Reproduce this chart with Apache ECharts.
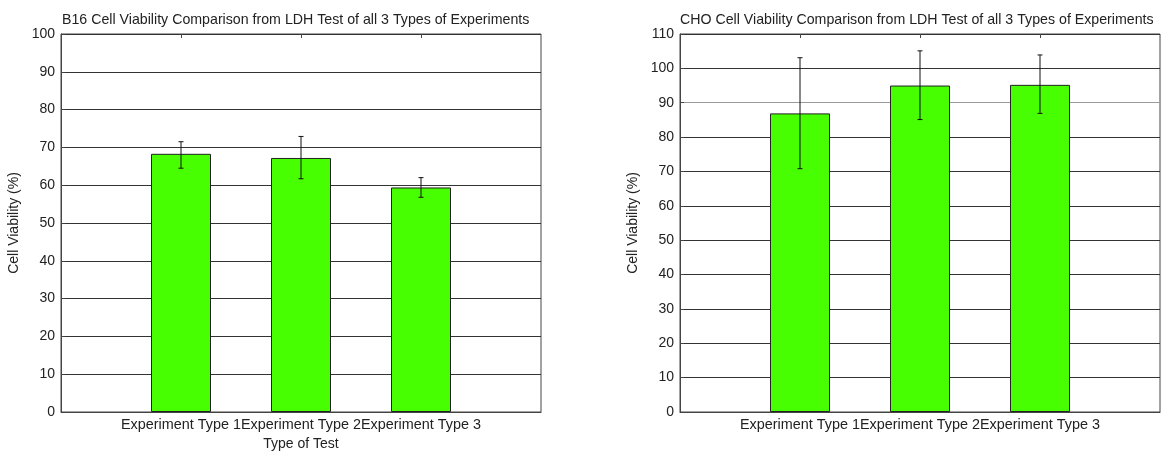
<!DOCTYPE html>
<html>
<head>
<meta charset="utf-8">
<script src="https://cdn.jsdelivr.net/npm/echarts@6/dist/echarts.min.js"></script>
<style>
  html, body { margin: 0; padding: 0; background: #fff; }
  #chart { width: 1161px; height: 452px; }
</style>
</head>
<body>
<div id="chart"></div>
<script>
// categories shared by both panels
const categories = ['Experiment Type 1', 'Experiment Type 2', 'Experiment Type 3'];

// B16 panel
const b16Values = [68.3, 67.2, 59.4];
const b16Low = [64.5, 61.7, 56.8];
const b16High = [71.5, 72.9, 62.0];

// CHO panel
const choValues = [86.9, 95.0, 95.2];
const choLow = [70.8, 85.1, 86.9];
const choHigh = [103.1, 105.1, 103.9];

const b16Ticks = [0, 10, 20, 30, 40, 50, 60, 70, 80, 90, 100];
const choTicks = [0, 10, 20, 30, 40, 50, 60, 70, 80, 90, 100, 110];

const FONT = "'Liberation Sans', Arial, sans-serif";
const TEXT = '#222';
const GREEN = '#47ff00';

// pad one empty slot on each side so bars sit at 1,2,3 of a 0..4 axis
const axisCats = ['', ...categories, ''];
const padded = arr => ['-', ...arr, '-'];

function errData(low, high) {
    return low.map((l, i) => [i + 1, l, high[i]]);
}

function renderErr(params, api) {
    const x = api.value(0);
    const lo = api.coord([x, api.value(1)]);
    const hi = api.coord([x, api.value(2)]);
    const cap = 2.5;
    const style = { stroke: '#111', lineWidth: 1 };
    return {
        type: 'group',
        children: [
            { type: 'line', shape: { x1: lo[0], y1: lo[1], x2: hi[0], y2: hi[1] }, style },
            { type: 'line', shape: { x1: hi[0] - cap, y1: hi[1], x2: hi[0] + cap, y2: hi[1] }, style },
            { type: 'line', shape: { x1: lo[0] - cap, y1: lo[1], x2: lo[0] + cap, y2: lo[1] }, style }
        ]
    };
}

function yAxisFor(gridIndex, ticks, lineColors) {
    return {
        type: 'value',
        gridIndex,
        min: ticks[0],
        max: ticks[ticks.length - 1],
        interval: 10,
        name: 'Cell Viability (%)',
        nameLocation: 'middle',
        nameGap: 40,
        nameTextStyle: { fontSize: 14, color: TEXT, fontFamily: FONT },
        axisLine: { show: true, lineStyle: { color: '#444' } },
        axisTick: { show: true, inside: true, length: 4, lineStyle: { color: '#444' } },
        axisLabel: { fontSize: 14, color: TEXT, fontFamily: FONT, margin: 6 },
        splitLine: { show: true, lineStyle: { color: lineColors, width: 1 } }
    };
}

function xAxisFor(gridIndex, name) {
    return {
        type: 'category',
        gridIndex,
        data: axisCats,
        boundaryGap: false,
        name,
        nameLocation: 'middle',
        nameGap: 25,
        nameTextStyle: { fontSize: 14, color: TEXT, fontFamily: FONT },
        axisLine: { show: true, lineStyle: { color: '#444' } },
        axisTick: { show: false },
        axisLabel: { interval: 0, fontSize: 14.4, color: TEXT, fontFamily: FONT, margin: 6, hideOverlap: false }
    };
}

function topAxisFor(gridIndex) {
    return {
        type: 'category',
        gridIndex,
        position: 'top',
        data: axisCats,
        boundaryGap: false,
        axisLine: { show: false },
        axisTick: {
            show: true, inside: true, length: 4,
            interval: (i) => i > 0 && i < axisCats.length - 1,
            lineStyle: { color: '#444' }
        },
        axisLabel: { show: false }
    };
}

const darkLines = '#333';
// the 90 line on the CHO panel reads lighter in the original
const choLines = choTicks.map(t => (t === 90 ? '#9a9a9a' : '#333'));

const gridBase = {
    width: 480, top: 34, bottom: 40,
    show: true, borderColor: '#444', borderWidth: 1,
    containLabel: false, outerBoundsMode: 'none'
};

const titleStyle = { fontSize: 14.2, fontWeight: 'normal', color: TEXT, fontFamily: FONT };

const option = {
    backgroundColor: '#fff',
    animation: false,
    title: [
        {
            text: 'B16 Cell Viability Comparison from LDH Test of all 3 Types of Experiments',
            left: 62, top: 13, padding: 0, textStyle: titleStyle
        },
        {
            text: 'CHO Cell Viability Comparison from LDH Test of all 3 Types of Experiments',
            left: 680, top: 13, padding: 0, textStyle: titleStyle
        }
    ],
    grid: [
        Object.assign({ left: 61 }, gridBase),
        Object.assign({ left: 680 }, gridBase)
    ],
    xAxis: [
        xAxisFor(0, 'Type of Test'),
        xAxisFor(1, ''),
        topAxisFor(0),
        topAxisFor(1)
    ],
    yAxis: [
        yAxisFor(0, b16Ticks, darkLines),
        yAxisFor(1, choTicks, choLines)
    ],
    series: [
        {
            type: 'bar', xAxisIndex: 0, yAxisIndex: 0,
            data: padded(b16Values), barWidth: 60,
            itemStyle: { color: GREEN, borderColor: '#222', borderWidth: 1 }
        },
        {
            type: 'custom', xAxisIndex: 0, yAxisIndex: 0,
            data: errData(b16Low, b16High), renderItem: renderErr, z: 5
        },
        {
            type: 'bar', xAxisIndex: 1, yAxisIndex: 1,
            data: padded(choValues), barWidth: 60,
            itemStyle: { color: GREEN, borderColor: '#222', borderWidth: 1 }
        },
        {
            type: 'custom', xAxisIndex: 1, yAxisIndex: 1,
            data: errData(choLow, choHigh), renderItem: renderErr, z: 5
        }
    ]
};

const chart = echarts.init(document.getElementById('chart'), null, { renderer: 'canvas' });
chart.setOption(option);
</script>
</body>
</html>
